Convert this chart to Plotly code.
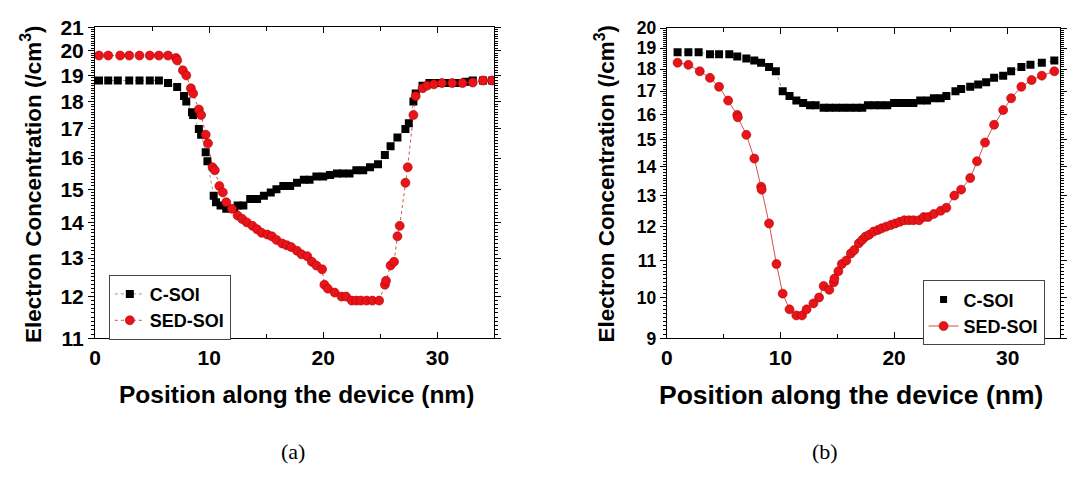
import math
import plotly.graph_objects as go

# ---------------- data: panel (a) ----------------
a_csoi_x = [0.35, 1.16, 2.0, 3.0, 3.9, 4.8, 5.6, 6.4, 7.2, 7.8, 8.0, 8.5, 8.6, 9.1, 9.3, 9.7, 9.85,
            10.4, 10.6, 11.0, 11.5, 12.2, 12.5, 13.0, 13.6, 14.2, 14.8, 15.4, 15.9, 16.5, 17.1, 17.7,
            18.3, 18.8, 19.4, 20.0, 20.6, 21.2, 21.7, 22.3, 22.9, 23.5, 24.1, 24.8, 25.4, 25.9, 26.5,
            27.2, 27.5, 27.9, 28.1, 28.7, 29.3, 29.9, 30.7, 31.6, 32.5, 33.1, 34.0, 34.8]
a_csoi_y = [18.8, 18.8, 18.8, 18.8, 18.8, 18.8, 18.8, 18.7, 18.55, 18.2, 18.0, 17.6, 17.5, 17.0, 16.8, 16.2, 15.9,
            14.8, 14.6, 14.5, 14.4, 14.4, 14.5, 14.5, 14.7, 14.7, 14.8, 14.9, 15.0, 15.1, 15.1, 15.2,
            15.3, 15.3, 15.4, 15.4, 15.45, 15.5, 15.5, 15.5, 15.6, 15.6, 15.7, 15.8, 16.1, 16.4, 16.7,
            17.0, 17.2, 18.0, 18.3, 18.6, 18.7, 18.7, 18.7, 18.7, 18.75, 18.8, 18.8, 18.8]

a_sed_x = [0.35, 1.16, 2.2, 3.0, 3.9, 4.8, 5.6, 6.4, 7.1, 7.2, 7.7, 8.0, 8.4, 8.6, 9.1, 9.3, 9.7, 9.9,
           10.3, 10.5, 10.9, 11.2, 11.5, 12.0, 12.5, 12.9, 13.3, 13.8, 14.2, 14.6, 15.1, 15.5, 15.9,
           16.4, 16.8, 17.2, 17.7, 18.1, 18.6, 19.0, 19.4, 19.9, 20.1, 20.4, 21.0, 21.6, 22.0, 22.5,
           22.9, 23.3, 23.8, 24.3, 24.9, 25.4, 25.5, 25.9, 26.2, 26.5, 26.7, 27.2, 27.4, 27.9, 28.1,
           28.7, 29.1, 29.7, 30.4, 31.3, 32.2, 33.1, 34.0, 34.8]
a_sed_y = [19.8, 19.8, 19.8, 19.8, 19.8, 19.8, 19.8, 19.8, 19.7, 19.6, 19.2, 19.0, 18.5, 18.3, 17.7, 17.5, 16.8, 16.5,
           15.7, 15.6, 15.1, 14.9, 14.6, 14.4, 14.2, 14.1, 14.0, 13.9, 13.8, 13.7, 13.65, 13.6, 13.5,
           13.4, 13.35, 13.3, 13.2, 13.1, 13.05, 12.9, 12.8, 12.7, 12.3, 12.2, 12.1, 12.0, 12.0, 11.9,
           11.9, 11.9, 11.9, 11.9, 11.9, 12.3, 12.4, 12.8, 12.9, 13.6, 13.9, 15.2, 15.7, 17.5, 18.2,
           18.5, 18.6, 18.65, 18.7, 18.7, 18.7, 18.72, 18.8, 18.8]

# ---------------- data: panel (b) ----------------
b_csoi_x = [0.95, 1.9, 2.8, 3.8, 4.6, 5.5, 6.2, 7.0, 7.7, 8.3, 9.0, 9.6, 10.2, 10.8, 11.4, 12.0, 12.6,
            13.1, 13.8, 14.3, 14.9, 15.5, 16.1, 16.7, 17.2, 17.7, 18.3, 18.8, 19.4, 20.0, 20.6, 21.2,
            21.7, 22.3, 22.9, 23.5, 24.1, 24.6, 25.4, 25.9, 26.7, 27.4, 28.1, 28.8, 29.6, 30.3, 31.2,
            32.0, 33.0, 34.1]
b_csoi_y = [18.8, 18.8, 18.8, 18.7, 18.7, 18.7, 18.6, 18.5, 18.4, 18.3, 18.1, 17.9, 17.0, 16.8, 16.6, 16.5, 16.4,
            16.4, 16.3, 16.3, 16.3, 16.3, 16.3, 16.3, 16.3, 16.4, 16.4, 16.4, 16.4, 16.5, 16.5, 16.5,
            16.5, 16.6, 16.6, 16.7, 16.7, 16.8, 17.0, 17.1, 17.2, 17.3, 17.4, 17.6, 17.7, 17.9, 18.1,
            18.2, 18.3, 18.4]

b_sed_x = [0.95, 1.9, 2.9, 3.8, 4.6, 5.4, 6.2, 6.25, 7.0, 7.7, 8.3, 8.35, 9.0, 9.65, 10.2, 10.8, 11.4,
           11.9, 12.3, 12.9, 13.4, 13.8, 14.3, 14.7, 14.75, 15.1, 15.4, 15.8, 16.2, 16.5, 16.9, 17.2,
           17.5, 17.8, 18.2, 18.6, 18.9, 19.3, 19.7, 20.1, 20.5, 20.9, 21.3, 21.7, 22.2, 22.6, 23.0,
           23.5, 24.1, 24.6, 25.3, 25.9, 26.7, 27.3, 28.0, 28.8, 29.6, 30.3, 31.2, 32.1, 33.0, 34.1]
b_sed_y = [18.3, 18.2, 17.9, 17.6, 17.2, 16.6, 16.0, 15.9, 15.2, 14.3, 13.3, 13.2, 12.1, 10.9, 10.1, 9.7, 9.55,
           9.55, 9.7, 9.85, 10.0, 10.3, 10.2, 10.4, 10.5, 10.7, 10.9, 11.0, 11.2, 11.3, 11.5, 11.6,
           11.7, 11.75, 11.85, 11.9, 11.95, 12.0, 12.05, 12.1, 12.15, 12.2, 12.2, 12.2, 12.2, 12.3, 12.3,
           12.4, 12.5, 12.6, 13.0, 13.2, 13.6, 14.2, 14.9, 15.6, 16.2, 16.7, 17.2, 17.5, 17.7, 17.9]

a_yticks = list(range(11, 22))
b_yticks = list(range(9, 21))
x_ticks = [0, 10, 20, 30]

W, H = 1067, 477
FONT = "Liberation Sans, Arial, sans-serif"
BLACK_M = dict(symbol="square", size=8, color="black")
RED_M = dict(symbol="circle", size=9, color="#e8141a", line=dict(color="#b00000", width=0.6))


def px_x(p):
    return p / W


def px_y(p):
    return 1 - p / H


fig = go.Figure()

# panel (a)
fig.add_trace(go.Scatter(x=a_csoi_x, y=a_csoi_y, mode="lines+markers", name="C-SOI",
                         line=dict(color="#808080", width=0.8, dash="dot"), marker=BLACK_M,
                         xaxis="x", yaxis="y", legend="legend"))
fig.add_trace(go.Scatter(x=a_sed_x, y=a_sed_y, mode="lines+markers", name="SED-SOI",
                         line=dict(color="#cc2222", width=0.8, dash="dot"), marker=RED_M,
                         xaxis="x", yaxis="y", legend="legend"))
# panel (b)
fig.add_trace(go.Scatter(x=b_csoi_x, y=b_csoi_y, mode="lines+markers", name="C-SOI",
                         line=dict(color="#808080", width=0.8, dash="dot"), marker=BLACK_M,
                         xaxis="x2", yaxis="y2", showlegend=False))
fig.add_trace(go.Scatter(x=[None], y=[None], mode="markers", name="C-SOI",
                         marker=dict(symbol="square", size=7, color="black"),
                         xaxis="x2", yaxis="y2", legend="legend2"))
fig.add_trace(go.Scatter(x=b_sed_x, y=b_sed_y, mode="lines+markers", name="SED-SOI",
                         line=dict(color="#cc2222", width=0.8), marker=RED_M,
                         xaxis="x2", yaxis="y2", legend="legend2"))


def tickfont(size):
    return dict(family=FONT, size=size, color="black", weight="bold")


def xaxis(domain, rng, anchor):
    return dict(domain=domain, range=rng, anchor=anchor, tickvals=x_ticks,
                ticktext=[f"<b>{v}</b>" for v in x_ticks],
                ticks="inside", ticklen=6, tickwidth=1, tickcolor="black",
                minor=dict(dtick=5, tick0=0, ticks="inside", ticklen=4, tickcolor="black"),
                showline=True, linecolor="black", linewidth=1, mirror="ticks",
                showgrid=False, zeroline=False, tickfont=tickfont(21))


def yaxis(domain, lo, hi, ticks, anchor, fsize):
    minor_vals = [lo + k / 10 for k in range(1, int((hi - lo) * 10)) if k % 10 != 0]
    return dict(domain=domain, type="log", range=[math.log10(lo), math.log10(hi)], anchor=anchor,
                tickmode="array", tickvals=ticks, ticktext=[f"<b>{v}</b>" for v in ticks],
                ticks="outside", ticklen=6, tickwidth=1, tickcolor="black",
                minor=dict(tickmode="array", tickvals=minor_vals, ticks="outside", ticklen=3,
                           tickcolor="black"),
                showline=True, linecolor="black", linewidth=1, mirror="ticks",
                showgrid=False, zeroline=False, tickfont=tickfont(fsize))


fig.update_layout(
    width=W, height=H,
    margin=dict(l=0, r=0, t=0, b=0),
    paper_bgcolor="white", plot_bgcolor="white",
    xaxis=xaxis([px_x(90), px_x(494)], [0, 35], "y"),
    yaxis=yaxis([px_y(343), px_y(16)], 11, 21, a_yticks, "x", 21),
    xaxis2=xaxis([px_x(668.3), px_x(1066)], [0, 34.6], "y2"),
    yaxis2=yaxis([px_y(343), px_y(17)], 9, 20, b_yticks, "x2", 17.5),
    legend=dict(x=px_x(104), y=px_y(276), xanchor="left", yanchor="top",
                bgcolor="white", bordercolor="#444", borderwidth=1,
                font=dict(family=FONT, size=18, color="black", weight="bold"),
                itemwidth=30, tracegroupgap=0),
    legend2=dict(x=px_x(927), y=px_y(282), xanchor="left", yanchor="top",
                 bgcolor="white", bordercolor="#444", borderwidth=1,
                 font=dict(family=FONT, size=18, color="black", weight="bold"),
                 itemwidth=30, tracegroupgap=0),
    showlegend=True,
)

ytitle = "<b>Electron Concentration (/cm<sup>3</sup>)</b>"
xtitle = "<b>Position along the device (nm)</b>"
ann = [
    dict(text=ytitle, x=px_x(26), y=px_y(181), textangle=-90, font=dict(family=FONT, size=22.5)),
    dict(text=ytitle, x=px_x(606), y=px_y(180), textangle=-90, font=dict(family=FONT, size=22.5)),
    dict(text=xtitle, x=px_x(294), y=px_y(402), font=dict(family=FONT, size=24.5)),
    dict(text=xtitle, x=px_x(855), y=px_y(402), font=dict(family=FONT, size=26.5)),
    dict(text="(a)", x=px_x(290), y=px_y(462), font=dict(family="Liberation Serif, Times New Roman, serif", size=22)),
    dict(text="(b)", x=px_x(828), y=px_y(462), font=dict(family="Liberation Serif, Times New Roman, serif", size=22)),
]
for a in ann:
    a.update(xref="paper", yref="paper", showarrow=False, xanchor="center", yanchor="middle")
    a["font"]["color"] = "black"
fig.update_layout(annotations=ann)

fig.write_html("out.html")
